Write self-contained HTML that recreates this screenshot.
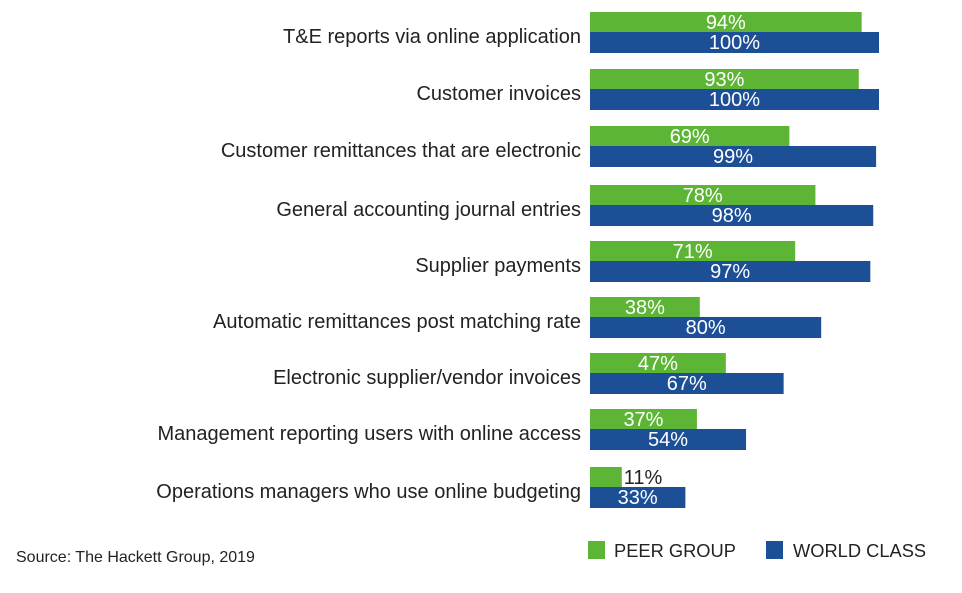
<!DOCTYPE html>
<html><head><meta charset="utf-8"><style>
body{margin:0;background:#fff;width:962px;height:588px;overflow:hidden;font-family:"Liberation Sans",sans-serif;}
svg text{font-family:"Liberation Sans",sans-serif;}
</style></head><body>
<svg id="chart" width="962" height="588">
<text x="16" y="562" font-size="16" fill="#222">Source: The Hackett Group, 2019</text>
<g>
<rect x="588" y="541" width="17" height="18" fill="#5db535"/>
<text x="614" y="557" font-size="18.3" fill="#222">PEER GROUP</text>
<rect x="766" y="541" width="17" height="18" fill="#1c4f96"/>
<text x="793" y="557" font-size="18.3" fill="#222">WORLD CLASS</text>
</g>
</svg>
<script>
const categories=["T&E reports via online application","Customer invoices","Customer remittances that are electronic","General accounting journal entries","Supplier payments","Automatic remittances post matching rate","Electronic supplier/vendor invoices","Management reporting users with online access","Operations managers who use online budgeting"];
const peerValues=[94,93,69,78,71,38,47,37,11];
const worldValues=[100,100,99,98,97,80,67,54,33];
const rowTops=[12,69,126,185,241,297,353,409,467];
const svg=document.getElementById('chart');
const NS='http://www.w3.org/2000/svg';
const x0=590, scale=2.89, bh=20, bh2=21;
function xLen(v){return v*scale;}
function mk(tag,attrs){const e=document.createElementNS(NS,tag);for(const k in attrs)e.setAttribute(k,attrs[k]);svg.appendChild(e);return e;}
categories.forEach((c,i)=>{
  const y=rowTops[i];
  const lab=mk('text',{x:581,y:y+bh+11,'font-size':20,fill:'#222','text-anchor':'end'});
  lab.textContent=c;
  
  
  [[peerValues[i],'#5db535',y,'peer',bh],[worldValues[i],'#1c4f96',y+bh,'world',bh2]].forEach(([v,col,yy,s,h])=>{
    const w=xLen(v);
    const r=mk('rect',{x:x0,y:yy,width:w,height:h,fill:col});
    
    
    const inside=w>60;
    const t=mk('text',{x:inside?x0+w/2:x0+w+2,y:yy+17,'font-size':20,fill:inside?'#fff':'#222','text-anchor':inside?'middle':'start'});
    t.textContent=v+'%';
    
    
  });
});
</script>
</body></html>
